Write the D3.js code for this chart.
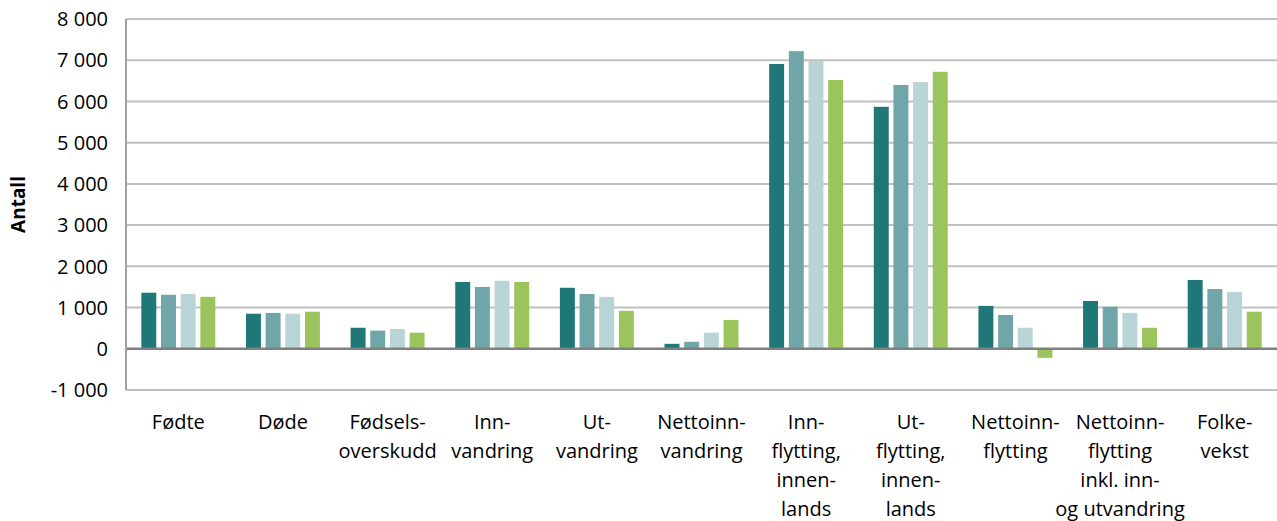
<!DOCTYPE html>
<html>
<head>
<meta charset="utf-8">
<script src="https://cdn.jsdelivr.net/npm/d3@7"></script>
<style>
  html, body { margin: 0; padding: 0; background: #fff; }
  svg text { font-family: "Open Sans", Lato, "Noto Sans", sans-serif; fill: #000; }
</style>
</head>
<body>
<svg id="chart" width="1277" height="521"></svg>
<script>
const categories = [
  ["Fødte"],
  ["Døde"],
  ["Fødsels-", "overskudd"],
  ["Inn-", "vandring"],
  ["Ut-", "vandring"],
  ["Nettoinn-", "vandring"],
  ["Inn-", "flytting,", "innen-", "lands"],
  ["Ut-", "flytting,", "innen-", "lands"],
  ["Nettoinn-", "flytting"],
  ["Nettoinn-", "flytting", "inkl. inn-", "og utvandring"],
  ["Folke-", "vekst"]
];
const seriesNames = ["S1", "S2", "S3", "S4"];
const series1 = [1360, 850, 510, 1620, 1480, 120, 6910, 5870, 1040, 1160, 1670];
const series2 = [1310, 870, 440, 1500, 1330, 170, 7220, 6400, 820, 1020, 1450];
const series3 = [1330, 850, 480, 1650, 1260, 390, 6980, 6470, 510, 870, 1380];
const series4 = [1260, 900, 390, 1620, 920, 700, 6520, 6720, -220, 510, 900];
const colors = ["#1f7778", "#70a6a7", "#b9d4d6", "#9cc45d"];
const yTicks = [-1000, 0, 1000, 2000, 3000, 4000, 5000, 6000, 7000, 8000];

const allSeries = [series1, series2, series3, series4];
const svg = d3.select("#chart");
const mLeft = 126, mRight = 1277, mTop = 19, mBottom = 390;

const y = d3.scaleLinear().domain([-1000, 8000]).range([mBottom, mTop]);
const x0 = d3.scaleBand().domain(d3.range(categories.length)).range([mLeft, mRight]).padding(0);
const x1 = d3.scaleBand().domain(d3.range(seriesNames.length)).range([0, x0.bandwidth()])
  .paddingInner(0.24).paddingOuter(0.78);

// gridlines
svg.append("g").selectAll("line").data(yTicks.filter(d => d !== 0)).join("line")
  .attr("x1", mLeft).attr("x2", mRight)
  .attr("y1", d => y(d)).attr("y2", d => y(d))
  .attr("stroke", "#c0c0c0").attr("stroke-width", 2);

// bars
const groups = svg.append("g").selectAll("g").data(categories).join("g")
  .attr("transform", (d, i) => `translate(${x0(i)},0)`);
groups.selectAll("rect").data((d, i) => allSeries.map((s, j) => ({ v: s[i], j })))
  .join("rect")
  .attr("x", d => x1(d.j))
  .attr("width", x1.bandwidth())
  .attr("y", d => y(Math.max(0, d.v)))
  .attr("height", d => Math.abs(y(d.v) - y(0)))
  .attr("fill", d => colors[d.j]);

// zero line
svg.append("line").attr("x1", mLeft).attr("x2", mRight)
  .attr("y1", y(0)).attr("y2", y(0))
  .attr("stroke", "#7f7f7f").attr("stroke-width", 2.5);

// left axis line
svg.append("line").attr("x1", mLeft).attr("x2", mLeft)
  .attr("y1", mTop).attr("y2", mBottom)
  .attr("stroke", "#a0a0a0").attr("stroke-width", 2);

// y tick labels
svg.append("g").selectAll("text").data(yTicks).join("text")
  .attr("x", 108).attr("y", d => y(d))
  .attr("dy", "0.36em")
  .attr("text-anchor", "end")
  .attr("font-size", 20)
  .text(d => (d < 0 ? "-" : "") + d3.format(",")(Math.abs(d)).replace(/,/g, " "));

// y axis title
svg.append("text")
  .attr("transform", `translate(25,${(mTop + mBottom) / 2}) rotate(-90)`)
  .attr("text-anchor", "middle")
  .attr("font-size", 19).attr("font-weight", "bold")
  .text("Antall");

// category labels
const lab = svg.append("g").selectAll("text").data(categories).join("text")
  .attr("text-anchor", "middle")
  .attr("font-size", 20)
  .attr("transform", (d, i) => `translate(${x0(i) + x0.bandwidth() / 2},429)`);
lab.selectAll("tspan").data(d => d).join("tspan")
  .attr("x", 0).attr("y", (d, k) => k * 29)
  .text(d => d);
</script>
</body>
</html>
